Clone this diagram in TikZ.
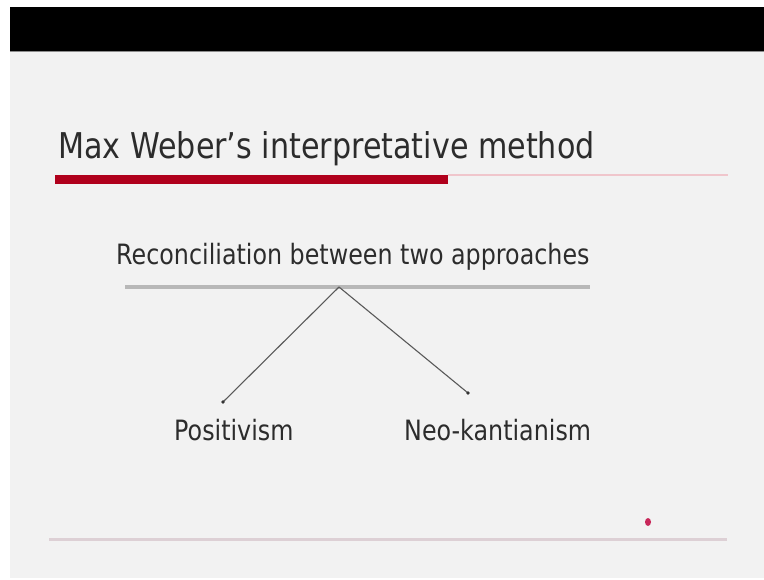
\documentclass[tikz,border=0pt]{standalone}
\usepackage{fontspec}
\setmainfont[FakeStretch=0.85]{DejaVu Sans}

\definecolor{slidebg}{HTML}{F2F2F2}
\definecolor{titlered}{HTML}{B0001C}
\definecolor{rulepink}{HTML}{F0C6CC}
\definecolor{footrule}{HTML}{DDD0D5}
\definecolor{footdot}{HTML}{C8285A}
\definecolor{textgray}{HTML}{2C2C2C}

\begin{document}
\begin{tikzpicture}[x=1pt, y=-1pt,
	every node/.style={inner sep=0pt, text=textgray},
	heading/.style={anchor=base west, font=\fontsize{35.5}{40}\selectfont},
	label/.style={anchor=base west, font=\fontsize{28}{32}\selectfont},
	branch/.style={draw=black!65, line width=1.1pt}]

	\useasboundingbox (0,0) rectangle (764,580);

	% === SLIDE === (((
	\fill [slidebg] (10,51) rectangle (764,578);
	\fill [black] (10,7) rectangle (764,51);
	\draw [black!45, line width=1pt] (10,51.5) -- (764,51.5);
	% )))

	% === TITLE === (((
	\node [heading] (title) at (58,159) {Max Weber’s interpretative method};
	\draw [rulepink, line width=2pt] (448,175) -- (728,175);
	\fill [titlered] (55,175) rectangle (448,184.5);
	% )))

	% === TREE === (((
	\node [label] (root) at (116,265) {Reconciliation between two approaches};
	\draw [black!28, line width=4pt] (125,287) -- (590,287);
	\coordinate (apex) at (339,287);
	\coordinate (posdot) at (223,402);
	\coordinate (neodot) at (468,393);
	\node [label] (pos) at (174,440) {Positivism};
	\node [label] (neo) at (404,440) {Neo-kantianism};
	\foreach \d in {posdot,neodot} {
		\draw [branch] (apex) -- (\d);
		\fill [black!80] (\d) circle (1.8pt);
	}
	% )))

	% === FOOTER === (((
	\draw [footrule, line width=3pt] (49,539) -- (727,539);
	\fill [footdot] (648,522) ellipse (3pt and 4pt);
	% )))

\end{tikzpicture}
\end{document}
